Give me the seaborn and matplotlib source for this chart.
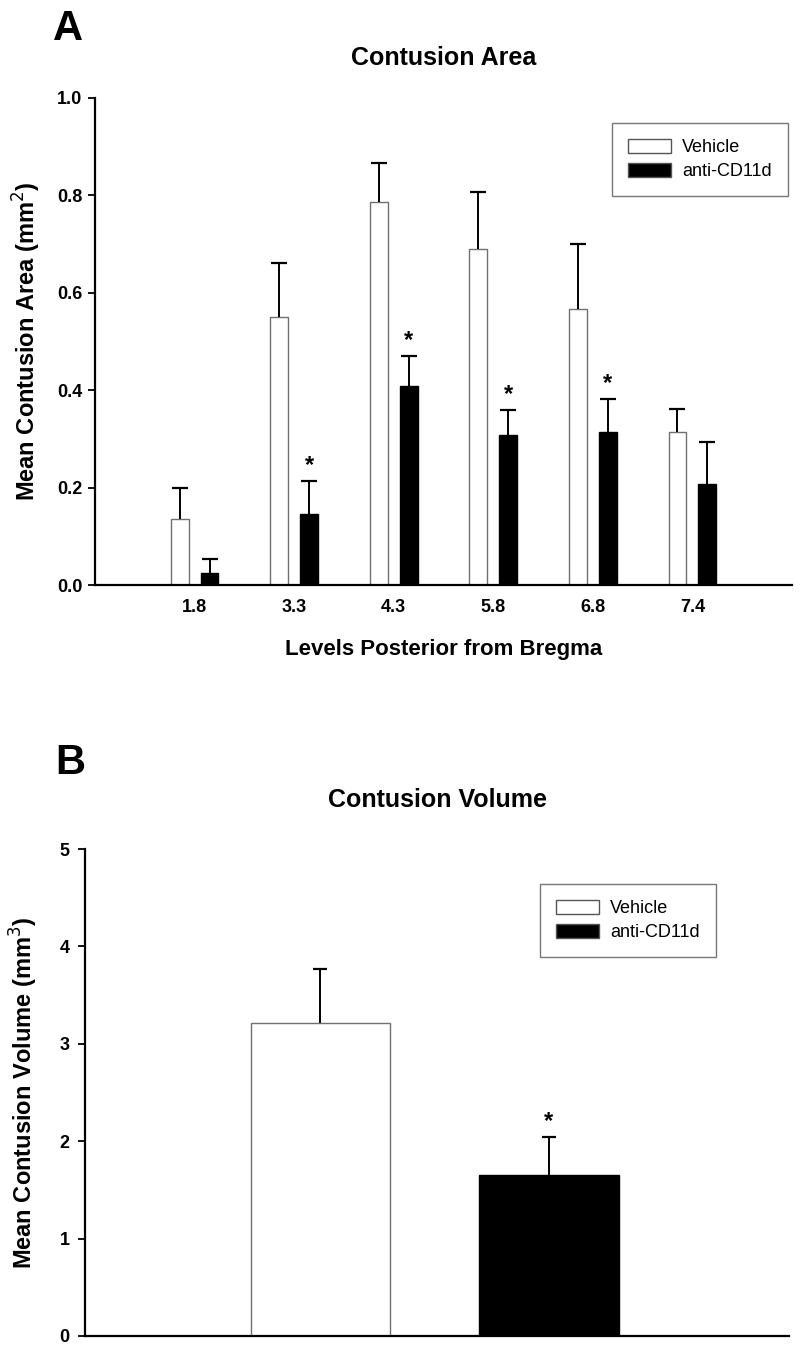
import matplotlib
matplotlib.use("Agg")
import matplotlib.pyplot as plt
from matplotlib.patches import Patch
import seaborn as sns
import pandas as pd
import numpy as np

# ---------------- data ----------------
levels = ["1.8", "3.3", "4.3", "5.8", "6.8", "7.4"]
groups = ["Vehicle", "anti-CD11d"]
area_vehicle = [0.135, 0.550, 0.787, 0.690, 0.567, 0.314]
area_vehicle_err = [0.064, 0.111, 0.079, 0.117, 0.133, 0.047]
area_anti = [0.025, 0.146, 0.409, 0.308, 0.314, 0.207]
area_anti_err = [0.028, 0.067, 0.061, 0.051, 0.068, 0.087]
area_signif = [False, True, True, True, True, False]

volume_groups = ["Vehicle", "anti-CD11d"]
volume_mean = [3.21, 1.65]
volume_err = [0.56, 0.39]
volume_signif = [False, True]

colors = {"Vehicle": "white", "anti-CD11d": "black"}
edges = {"Vehicle": "#707070", "anti-CD11d": "black"}

sns.set_style("white")
plt.rcParams["font.family"] = ["Liberation Sans", "DejaVu Sans"]
plt.rcParams["text.color"] = "black"
plt.rcParams["axes.labelcolor"] = "black"
plt.rcParams["xtick.color"] = "black"
plt.rcParams["ytick.color"] = "black"

fig = plt.figure(figsize=(8, 13.5), dpi=100)
W, H = 800, 1350


def ax_rect(l, t, r, b):
    return [l / W, 1 - b / H, (r - l) / W, (b - t) / H]


def upper_errorbar(ax, xs, ys, es, capsize):
    xs = np.asarray(xs, float)
    ys = np.asarray(ys, float)
    es = np.asarray(es, float)
    _, caps, _ = ax.errorbar(xs, ys, yerr=[np.zeros_like(es), es], fmt="none",
                             ecolor="black", elinewidth=1.4, capsize=capsize,
                             capthick=1.6, zorder=1)
    for c in caps:
        if np.allclose(np.asarray(c.get_ydata(), float), ys):
            c.set_visible(False)


axA = fig.add_axes(ax_rect(95, 98, 792, 585))
axB = fig.add_axes(ax_rect(85, 849, 789, 1336))

# ---------------- panel A ----------------
dfA = pd.DataFrame({
    "level": levels * 2,
    "group": [groups[0]] * len(levels) + [groups[1]] * len(levels),
    "value": area_vehicle + area_anti,
})
sns.barplot(data=dfA, x="level", y="value", hue="group", order=levels,
            hue_order=groups, palette=colors, width=0.6, gap=0.4,
            errorbar=None, ax=axA, legend=False)

errs = {groups[0]: area_vehicle_err, groups[1]: area_anti_err}
vals = {groups[0]: area_vehicle, groups[1]: area_anti}
for cont, g in zip(axA.containers, groups):
    xs = []
    for p in cont.patches:
        p.set_edgecolor(edges[g])
        p.set_linewidth(1.0)
        xs.append(p.get_x() + p.get_width() / 2)
    xs = np.array(xs)
    yv = np.array(vals[g])
    ye = np.array(errs[g])
    upper_errorbar(axA, xs, yv, ye, 5.5)
    if g == groups[1]:
        for x, y, e, s in zip(xs, yv, ye, area_signif):
            if s:
                axA.annotate("*", xy=(x, y + e), xytext=(0, 3),
                             textcoords="offset points", ha="center",
                             va="bottom", fontsize=17, fontweight="bold")

axA.set_xlim(-1.0, 6.0)
axA.set_ylim(0, 1.0)
axA.set_yticks([0.0, 0.2, 0.4, 0.6, 0.8, 1.0])
axA.set_yticklabels(["0.0", "0.2", "0.4", "0.6", "0.8", "1.0"])
axA.set_xlabel("Levels Posterior from Bregma", fontsize=16, fontweight="bold",
               labelpad=17)
axA.set_ylabel("Mean Contusion Area (mm$^{2}$)", fontsize=17,
               fontweight="bold", labelpad=10)
axA.set_title("Contusion Area", fontsize=18, fontweight="bold", pad=24)
axA.tick_params(axis="y", which="both", direction="out", length=5, width=1.3,
                labelsize=13, left=True, pad=4)
axA.tick_params(axis="x", length=0, labelsize=13, pad=10)
for lab in axA.get_xticklabels() + axA.get_yticklabels():
    lab.set_fontweight("bold")
for s in ["top", "right"]:
    axA.spines[s].set_visible(False)
for s in ["left", "bottom"]:
    axA.spines[s].set_linewidth(1.6)
    axA.spines[s].set_color("black")

handles = [Patch(facecolor=colors[g], edgecolor="#555555", linewidth=1.0, label=g)
           for g in groups]
legA = axA.legend(handles=handles, loc="upper right",
                  bbox_to_anchor=(788 / W, 1 - 123 / H),
                  bbox_transform=fig.transFigure, fontsize=13, frameon=True,
                  fancybox=False, edgecolor="#555555", borderpad=0.9,
                  labelspacing=0.35, handlelength=2.4, handleheight=0.8,
                  handletextpad=0.6, borderaxespad=0)
legA.get_frame().set_linewidth(1.0)

fig.text(53 / W, 1 - 40 / H, "A", fontsize=30, fontweight="bold",
         ha="left", va="baseline")

# ---------------- panel B ----------------
dfB = pd.DataFrame({"group": volume_groups, "value": volume_mean})
sns.barplot(data=dfB, x="group", y="value", hue="group", order=volume_groups,
            hue_order=volume_groups, palette=colors, width=0.61,
            errorbar=None, ax=axB, legend=False, dodge=False)
xsB = []
for p in axB.patches:
    xsB.append(p.get_x() + p.get_width() / 2)
for cont, g in zip(axB.containers, volume_groups):
    for p in cont.patches:
        p.set_edgecolor(edges[g])
        p.set_linewidth(1.0)
xsB = np.array(sorted(xsB))
yB = np.array(volume_mean)
eB = np.array(volume_err)
upper_errorbar(axB, xsB, yB, eB, 5)
for x, y, e, s in zip(xsB, yB, eB, volume_signif):
    if s:
        axB.annotate("*", xy=(x, y + e), xytext=(0, 3),
                     textcoords="offset points", ha="center", va="bottom",
                     fontsize=17, fontweight="bold")

axB.set_xlim(-1.03, 2.05)
axB.set_ylim(0, 5)
axB.set_yticks([0, 1, 2, 3, 4, 5])
axB.set_xticks([])
axB.set_xlabel("")
axB.set_ylabel("Mean Contusion Volume (mm$^{3}$)", fontsize=17,
               fontweight="bold", labelpad=14)
axB.set_title("Contusion Volume", fontsize=18, fontweight="bold", pad=30)
axB.tick_params(axis="y", direction="out", length=5, width=1.3,
                labelsize=13, left=True, pad=6)
for lab in axB.get_yticklabels():
    lab.set_fontweight("bold")
for s in ["top", "right"]:
    axB.spines[s].set_visible(False)
for s in ["left", "bottom"]:
    axB.spines[s].set_linewidth(1.6)
    axB.spines[s].set_color("black")

legB = axB.legend(handles=handles, loc="upper right",
                  bbox_to_anchor=(716 / W, 1 - 884 / H),
                  bbox_transform=fig.transFigure, fontsize=13, frameon=True,
                  fancybox=False, edgecolor="#555555", borderpad=0.9,
                  labelspacing=0.35, handlelength=2.4, handleheight=0.8,
                  handletextpad=0.6, borderaxespad=0)
legB.get_frame().set_linewidth(1.0)

fig.text(55 / W, 1 - 774 / H, "B", fontsize=30, fontweight="bold",
         ha="left", va="baseline")

fig.savefig("out.png", dpi=100, facecolor="white")
